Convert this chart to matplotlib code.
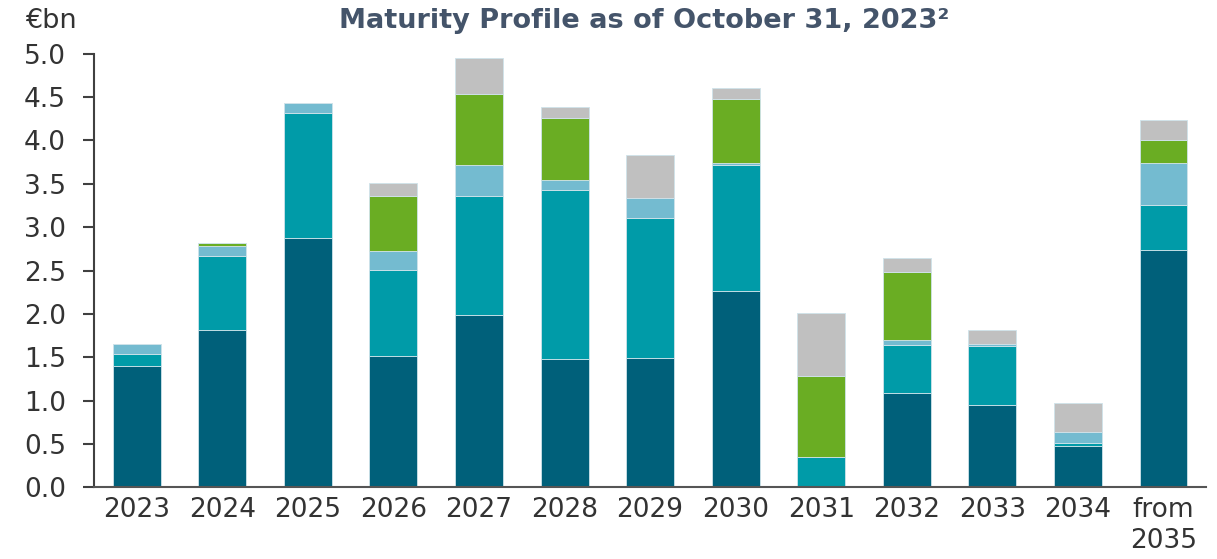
import numpy as np
import matplotlib
matplotlib.use("Agg")
import matplotlib.pyplot as plt

# Maturity profile (EUR bn)
years = ["2023", "2024", "2025", "2026", "2027", "2028", "2029",
         "2030", "2031", "2032", "2033", "2034", "from\n2035"]
dark = [1.40, 1.81, 2.87, 1.52, 1.99, 1.48, 1.49, 2.26, 0.00, 1.09, 0.95, 0.48, 2.74]
teal = [0.14, 0.86, 1.45, 0.99, 1.37, 1.95, 1.62, 1.46, 0.355, 0.55, 0.68, 0.03, 0.52]
light = [0.11, 0.11, 0.11, 0.22, 0.36, 0.11, 0.23, 0.02, 0.00, 0.06, 0.02, 0.13, 0.48]
green = [0.00, 0.04, 0.00, 0.63, 0.82, 0.72, 0.00, 0.74, 0.93, 0.78, 0.00, 0.00, 0.26]
grey = [0.00, 0.00, 0.00, 0.15, 0.41, 0.12, 0.49, 0.12, 0.725, 0.17, 0.17, 0.33, 0.24]

series = [dark, teal, light, green, grey]
colors = ["#00607A", "#009BA8", "#74BBD0", "#6AAD23", "#C0C0C0"]

fig = plt.figure(figsize=(12.17, 5.59), dpi=100)
ax = fig.add_axes([0.0772, 0.128, 0.914, 0.776])

x = np.arange(len(years))
bottom = np.zeros(len(years))
for vals, col in zip(series, colors):
    vals = np.array(vals)
    ax.bar(x, vals, width=0.56, bottom=bottom, color=col,
           edgecolor="#cfe3ea", linewidth=0.6)
    bottom += vals

ax.set_xlim(-0.5, 12.5)
ax.set_ylim(0, 5.0)
ax.set_yticks(np.arange(0, 5.01, 0.5))
ax.set_yticklabels([f"{v:.1f}" for v in np.arange(0, 5.01, 0.5)])
ax.set_xticks(x)
ax.set_xticklabels(years, linespacing=1.25)

for s in ["top", "right"]:
    ax.spines[s].set_visible(False)
ax.spines["left"].set_color("#404040")
ax.spines["left"].set_linewidth(1.5)
ax.spines["bottom"].set_color("#555555")
ax.spines["bottom"].set_linewidth(1.5)

ax.tick_params(axis="y", length=8, width=1.5, color="#404040",
               labelsize=19, labelcolor="#333333", pad=12)
ax.tick_params(axis="x", length=0, labelsize=19, labelcolor="#333333", pad=7)

fig.text(0.021, 0.962, "€bn", fontsize=19.5, color="#333333", va="center")
fig.text(0.529, 0.962, "Maturity Profile as of October 31, 2023²", fontsize=19.5,
         fontweight="bold", color="#44546A", ha="center", va="center")

fig.savefig("out.png", dpi=100)
